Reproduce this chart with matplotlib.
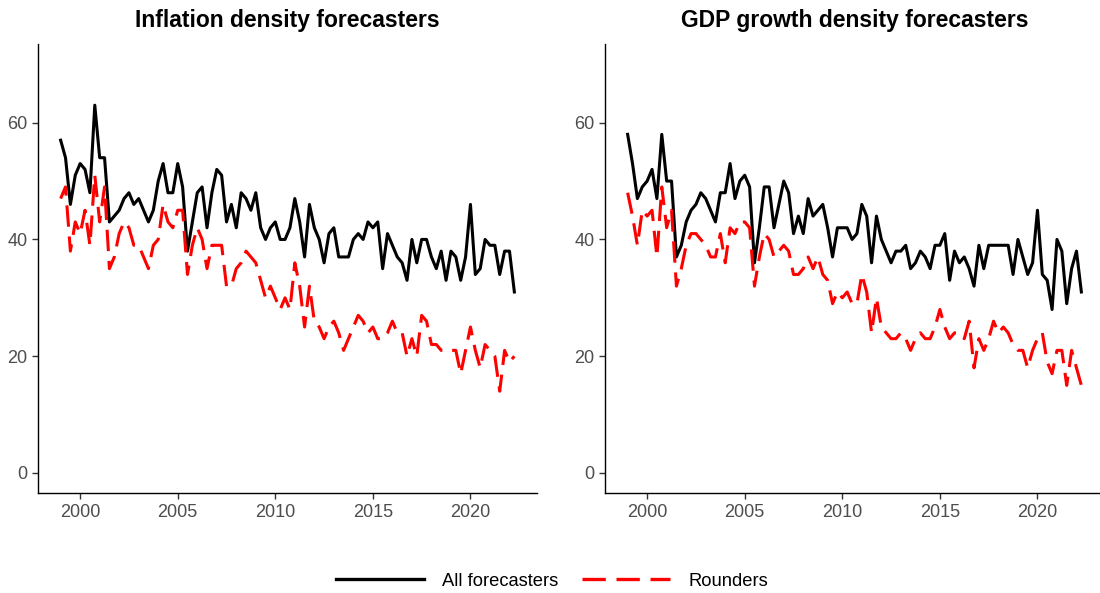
import numpy as np
import matplotlib
matplotlib.use("Agg")
import matplotlib.pyplot as plt
from matplotlib.lines import Line2D

plt.rcParams["font.family"] = ["Liberation Sans", "DejaVu Sans"]

# quarterly observations, 1999Q1 - 2022Q2
n_quarters = 94
dates = [1999 + q / 4 for q in range(n_quarters)]

infl_all = [57, 54, 46, 51, 53, 52, 48, 63, 54, 54, 43, 44, 45, 47, 48, 46, 47, 45, 43, 45,
            50, 53, 48, 48, 53, 49, 38, 43, 48, 49, 42, 48, 52, 51, 43, 46, 42, 48, 47, 45,
            48, 42, 40, 42, 43, 40, 40, 42, 47, 43, 37, 46, 42, 40, 36, 41, 42, 37, 37, 37,
            40, 41, 40, 43, 42, 43, 35, 41, 39, 37, 36, 33, 40, 36, 40, 40, 37, 35, 38, 33,
            38, 37, 33, 37, 46, 34, 35, 40, 39, 39, 34, 38, 38, 31]
infl_round = [47, 49, 38, 43, 41, 45, 39, 51, 43, 49, 35, 37, 41, 43, 42, 39, 39, 37, 35, 39,
              40, 46, 43, 42, 45, 45, 34, 39, 42, 40, 35, 39, 39, 39, 32, 32, 35, 36, 38, 37,
              36, 33, 30, 32, 30, 28, 30, 28, 36, 32, 25, 32, 26, 25, 23, 25, 26, 24, 21, 23,
              25, 27, 26, 24, 25, 23, 23, 24, 26, 24, 24, 20, 23, 20, 27, 26, 22, 22, 21, 21,
              21, 21, 17, 21, 25, 21, 18, 22, 21, 20, 14, 21, 19, 20]

gdp_all = [58, 53, 47, 49, 50, 52, 47, 58, 50, 50, 37, 39, 43, 45, 46, 48, 47, 45, 43, 48,
           48, 53, 47, 50, 51, 49, 36, 42, 49, 49, 42, 46, 50, 48, 41, 44, 41, 47, 44, 45,
           46, 42, 37, 42, 42, 42, 40, 41, 46, 44, 36, 44, 40, 38, 36, 38, 38, 39, 35, 36,
           38, 37, 35, 39, 39, 41, 33, 38, 36, 37, 35, 32, 39, 35, 39, 39, 39, 39, 39, 34,
           40, 37, 34, 36, 45, 34, 33, 28, 40, 38, 29, 35, 38, 31]
gdp_round = [48, 44, 39, 45, 44, 45, 37, 49, 42, 45, 32, 35, 39, 41, 41, 40, 39, 37, 37, 41,
             36, 42, 41, 43, 43, 42, 32, 37, 41, 40, 37, 38, 39, 38, 34, 34, 35, 37, 35, 37,
             34, 33, 29, 31, 30, 31, 29, 29, 34, 31, 24, 30, 25, 24, 23, 23, 24, 23, 21, 23,
             24, 23, 23, 25, 28, 25, 23, 24, 24, 23, 26, 18, 23, 21, 23, 26, 24, 25, 24, 22,
             21, 21, 18, 21, 23, 24, 19, 17, 21, 21, 15, 21, 18, 15]

titles = ["Inflation density forecasters", "GDP growth density forecasters"]
panels = [(infl_all, infl_round), (gdp_all, gdp_round)]

fig = plt.figure(figsize=(11, 5.93), dpi=100)
ax_left = fig.add_axes([38 / 1100, 0.168, 499 / 1100, 0.758])
ax_right = fig.add_axes([605 / 1100, 0.168, 499 / 1100, 0.758])

dash = (0, (7, 3.2))
for ax, title, (all_f, rounders) in zip([ax_left, ax_right], titles, panels):
    ax.plot(dates, all_f, color="black", linewidth=2.2)
    ax.plot(dates, rounders, color="#FF0000", linewidth=2.2, linestyle=dash)
    ax.set_xlim(1997.84, 2023.41)
    ax.set_ylim(-3.5, 73.5)
    ax.set_xticks([2000, 2005, 2010, 2015, 2020])
    ax.set_yticks([0, 20, 40, 60])
    ax.tick_params(labelsize=13, labelcolor="#4D4D4D", color="#333333", length=4, width=1)
    for side in ["top", "right"]:
        ax.spines[side].set_visible(False)
    for side in ["left", "bottom"]:
        ax.spines[side].set_color("black")
        ax.spines[side].set_linewidth(1.0)
    ax.set_title(title, fontsize=16.5, fontweight="bold", pad=12)

handles = [
    Line2D([], [], color="black", linewidth=2.4),
    Line2D([], [], color="#FF0000", linewidth=2.4, linestyle=dash),
]
fig.legend(handles, ["All forecasters", "Rounders"], loc="center",
           bbox_to_anchor=(0.502, 12 / 593), ncol=2, frameon=False, fontsize=13.2,
           handlelength=4.8, handletextpad=1.0, columnspacing=1.3)

fig.savefig("out.png", dpi=100)
